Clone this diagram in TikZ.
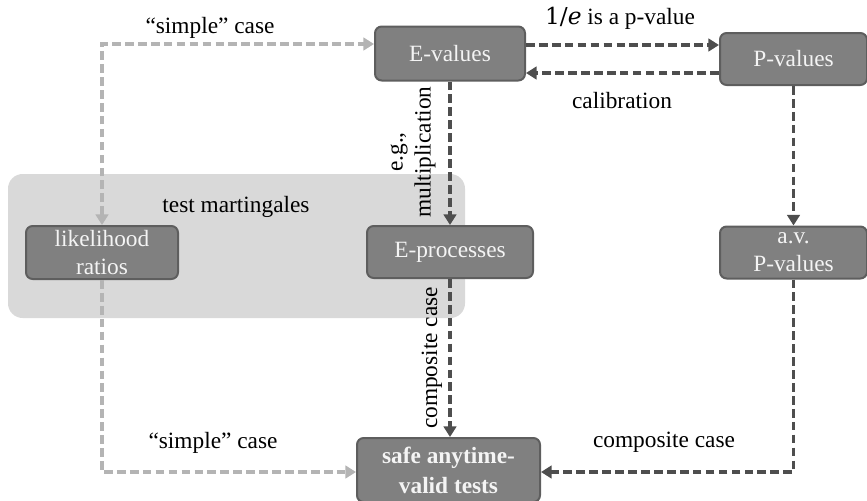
\documentclass[tikz,border=0pt]{standalone}
\usepackage{fontspec}
\setmainfont{Liberation Serif}
\newfontfamily\numfont{DejaVu Serif}
\usetikzlibrary{arrows.meta,calc}

\definecolor{boxfill}{HTML}{808080}
\definecolor{boxedge}{HTML}{5E5E5E}
\definecolor{boxtext}{HTML}{F4F4F4}
\definecolor{darkline}{HTML}{4E4E4E}
\definecolor{lightline}{HTML}{B4B4B4}
\definecolor{groupfill}{HTML}{D9D9D9}

\begin{document}
\begin{tikzpicture}[x=0.75pt,y=-0.75pt,
  font=\fontsize{17.5}{21}\selectfont,
  box/.style={draw=boxedge, line width=1.5pt, fill=boxfill, rounded corners=5pt,
    text=boxtext, align=center, inner sep=0pt},
  flowtip/.style={-{Triangle[length=8pt,width=9.5pt]}},
  darkflow/.style={draw=darkline, line width=2.4pt, dash pattern=on 6.5pt off 3.2pt,
    flowtip},
  lightflow/.style={draw=lightline, line width=2.4pt, dash pattern=on 6.5pt off 3.2pt},
  lbl/.style={text=black, inner sep=0pt, align=center}
]
\useasboundingbox (0,0) rectangle (867,500);

% shaded group behind the martingale-type objects
\fill[groupfill, rounded corners=11pt] (8,174) rectangle (465,318);
\node[lbl] (tm) at (236,207) {test martingales};

% boxes
\node[box, minimum width=112.5pt, minimum height=40.5pt] (ev) at (450,53.5) {E-values};
\node[box, minimum width=110.25pt, minimum height=39pt] (pv) at (793.5,59) {P-values};
\node[box, minimum width=110.25pt, minimum height=39pt] (av) at (793.5,252.5) {a.v.\\P-values};
\node[box, minimum width=114pt, minimum height=39.75pt] (lr) at (102,252.5) {likelihood\\ratios};
\node[box, minimum width=124.5pt, minimum height=39pt] (ep) at (450,252) {E-processes};
\node[box, minimum width=137.25pt, minimum height=48pt,
  font=\fontsize{17.5}{22.5}\selectfont\bfseries] (st) at (448.5,470) {safe anytime-\\valid tests};

% light "simple" connections
\draw[lightflow, {Triangle[length=8pt,width=9.5pt]}-{Triangle[length=8pt,width=9.5pt]}]
  (lr.north) |- (ev.west |- 0,44);
\draw[lightflow, flowtip] (lr.south) |- (st.west |- 0,472);

% dark connections
\draw[darkflow] (ev.east |- 0,45) -- (pv.west |- 0,45);
\draw[darkflow] (pv.west |- 0,73) -- (ev.east |- 0,73);
\draw[darkflow] (ev.south) -- (ep.north);
\draw[darkflow] (ep.south) -- (ep.south |- st.north);
\draw[darkflow] (pv.south) -- (av.north);
\draw[darkflow] (av.south) |- (st.east |- 0,472);

% connector labels
\node[lbl] (l1) at (210,28) {“simple” case};
\node[lbl] (l2) at (213,443) {“simple” case};
\node[lbl] (l3) at (620,18) {{\numfont 1/\textit{e}} is a p-value};
\node[lbl] (l4) at (622,101) {calibration};
\node[lbl] (l5) at (664,442) {composite case};
\node[lbl, rotate=90] (l6) at (413,152) {e.g.,\\multiplication};
\node[lbl, rotate=90] (l7) at (432,358) {composite case};
\end{tikzpicture}
\end{document}
